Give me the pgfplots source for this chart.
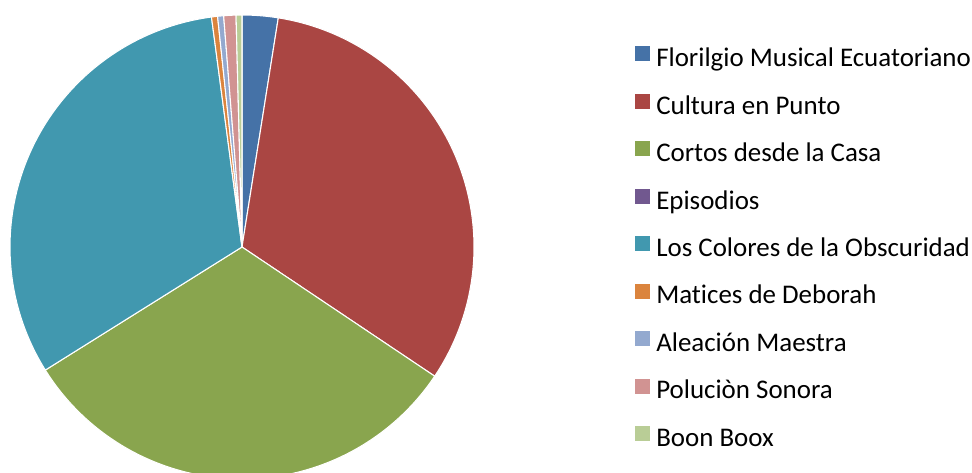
\documentclass[border=0pt]{standalone}
\usepackage{pgfplots}
\pgfplotsset{compat=1.18}
\usepackage{fontspec}
\setmainfont{Carlito}[Ligatures={NoCommon}]
\definecolor{cA}{HTML}{4572A7}
\definecolor{cB}{HTML}{AA4643}
\definecolor{cC}{HTML}{89A54E}
\definecolor{cD}{HTML}{71588F}
\definecolor{cE}{HTML}{4198AF}
\definecolor{cF}{HTML}{DB843D}
\definecolor{cG}{HTML}{93A9CF}
\definecolor{cH}{HTML}{D19392}
\definecolor{cI}{HTML}{B9CD96}
% values (share of total)
\def\vA{2.5}   % Florilgio Musical Ecuatoriano
\def\vB{31.9}  % Cultura en Punto
\def\vC{31.7}  % Cortos desde la Casa
\def\vD{0}     % Episodios
\def\vE{31.8}  % Los Colores de la Obscuridad
\def\vF{0.42}  % Matices de Deborah
\def\vG{0.42}  % Aleacion Maestra
\def\vH{0.85}  % Polucion Sonora
\def\vI{0.41}  % Boon Boox
\pgfmathsetmacro\tot{\vA+\vB+\vC+\vD+\vE+\vF+\vG+\vH+\vI}
\pgfmathsetmacro\aA{90}
\pgfmathsetmacro\aB{\aA-360*\vA/\tot}
\pgfmathsetmacro\aC{\aB-360*\vB/\tot}
\pgfmathsetmacro\aD{\aC-360*\vC/\tot}
\pgfmathsetmacro\aE{\aD-360*\vD/\tot}
\pgfmathsetmacro\aF{\aE-360*\vE/\tot}
\pgfmathsetmacro\aG{\aF-360*\vF/\tot}
\pgfmathsetmacro\aH{\aG-360*\vG/\tot}
\pgfmathsetmacro\aI{\aH-360*\vH/\tot}
\pgfmathsetmacro\aJ{\aI-360*\vI/\tot}
\newcommand\slice[3]{\fill[#3, draw=white, line width=0.8pt, line join=round] (axis cs:242,225) -- ++(#1:174pt) arc[start angle=#1, end angle=#2, radius=174pt] -- cycle;}
\begin{document}
\begin{tikzpicture}
\begin{axis}[
  scale only axis, width=729pt, height=354pt,
  xmin=0, xmax=972, ymin=0, ymax=472,
  hide axis, clip=true,
  legend image code/.code={\fill[#1, draw=none] (0pt,-1pt) rectangle (11.25pt,10.25pt);},
  legend cell align=left,
  legend style={at={(axis cs:635,426)}, anchor=north west, draw=none, fill=none,
    inner sep=0pt, row sep=16.35pt, column sep=4.5pt,
    font=\fontsize{20.2}{24}\selectfont,
    nodes={inner sep=0pt, text height=14pt, text depth=4pt}},
]
\slice{\aA}{\aB}{cA}
\slice{\aB}{\aC}{cB}
\slice{\aC}{\aD}{cC}
\slice{\aE}{\aF}{cE}
\slice{\aF}{\aG}{cF}
\slice{\aG}{\aH}{cG}
\slice{\aH}{\aI}{cH}
\slice{\aI}{\aJ}{cI}
\addlegendimage{fill=cA}\addlegendentry{Florilgio Musical Ecuatoriano}
\addlegendimage{fill=cB}\addlegendentry{Cultura en Punto}
\addlegendimage{fill=cC}\addlegendentry{Cortos desde la Casa}
\addlegendimage{fill=cD}\addlegendentry{Episodios}
\addlegendimage{fill=cE}\addlegendentry{Los Colores de la Obscuridad}
\addlegendimage{fill=cF}\addlegendentry{Matices de Deborah}
\addlegendimage{fill=cG}\addlegendentry{Aleación Maestra}
\addlegendimage{fill=cH}\addlegendentry{Poluciòn Sonora}
\addlegendimage{fill=cI}\addlegendentry{Boon Boox}
\end{axis}
\pgfresetboundingbox
\path (current axis.south west) rectangle (current axis.north east);
\end{tikzpicture}
\end{document}
